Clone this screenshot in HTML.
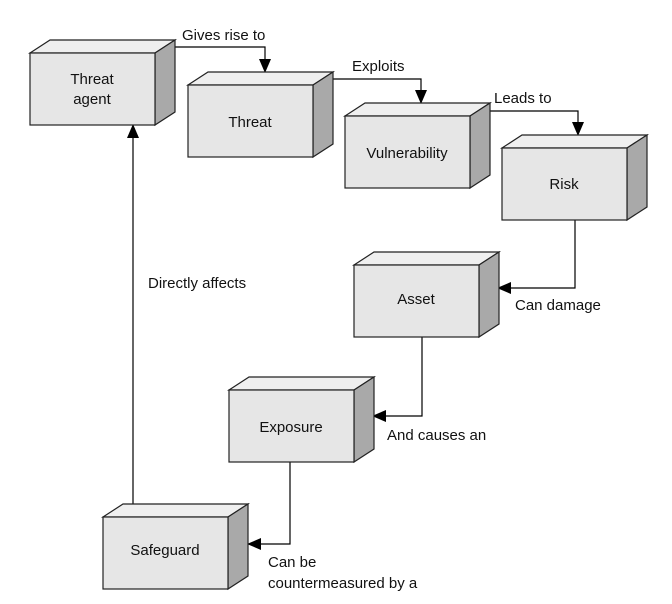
<!DOCTYPE html>
<html><head><style>body{margin:0;background:#fff}svg{display:block}text{font-family:"Liberation Sans",sans-serif;font-size:15px;fill:#111}</style></head><body>
<svg width="672" height="604" viewBox="0 0 672 604">
<defs>
<marker id="a" markerWidth="14" markerHeight="12" refX="13" refY="6" orient="auto" markerUnits="userSpaceOnUse"><path d="M0,0L14,6L0,12z" fill="#000"/></marker>
<g id="box">
<polygon points="0,0 20,-13 145,-13 125,0" fill="#efefef" stroke="#222" stroke-width="1.2"/>
<polygon points="125,0 145,-13 145,59 125,72" fill="#a9a9a9" stroke="#222" stroke-width="1.2"/>
<rect x="0" y="0" width="125" height="72" fill="#e6e6e6" stroke="#222" stroke-width="1.2"/>
</g>
</defs>
<g fill="none" stroke="#000" stroke-width="1.2">
<polyline points="175,47 265,47 265,72" marker-end="url(#a)"/>
<polyline points="333,79 421,79 421,103" marker-end="url(#a)"/>
<polyline points="490,111 578,111 578,135" marker-end="url(#a)"/>
<polyline points="575,220 575,288 498,288" marker-end="url(#a)"/>
<polyline points="422,337 422,416 373,416" marker-end="url(#a)"/>
<polyline points="290,462 290,544 248,544" marker-end="url(#a)"/>
<polyline points="133,517 133,125" marker-end="url(#a)"/>
</g>
<use href="#box" x="30" y="53"/>
<use href="#box" x="188" y="85"/>
<use href="#box" x="345" y="116"/>
<use href="#box" x="502" y="148"/>
<use href="#box" x="354" y="265"/>
<use href="#box" x="229" y="390"/>
<use href="#box" x="103" y="517"/>
<g text-anchor="middle">
<text x="92" y="84">Threat</text><text x="92" y="104">agent</text>
<text x="250" y="127">Threat</text>
<text x="407" y="158">Vulnerability</text>
<text x="564" y="189">Risk</text>
<text x="416" y="304">Asset</text>
<text x="291" y="432">Exposure</text>
<text x="165" y="555">Safeguard</text>
</g>
<text x="182" y="40">Gives rise to</text>
<text x="352" y="71">Exploits</text>
<text x="494" y="103">Leads to</text>
<text x="515" y="310">Can damage</text>
<text x="387" y="440">And causes an</text>
<text x="268" y="567">Can be</text>
<text x="268" y="588">countermeasured by a</text>
<text x="148" y="288">Directly affects</text>
</svg>
</body></html>
